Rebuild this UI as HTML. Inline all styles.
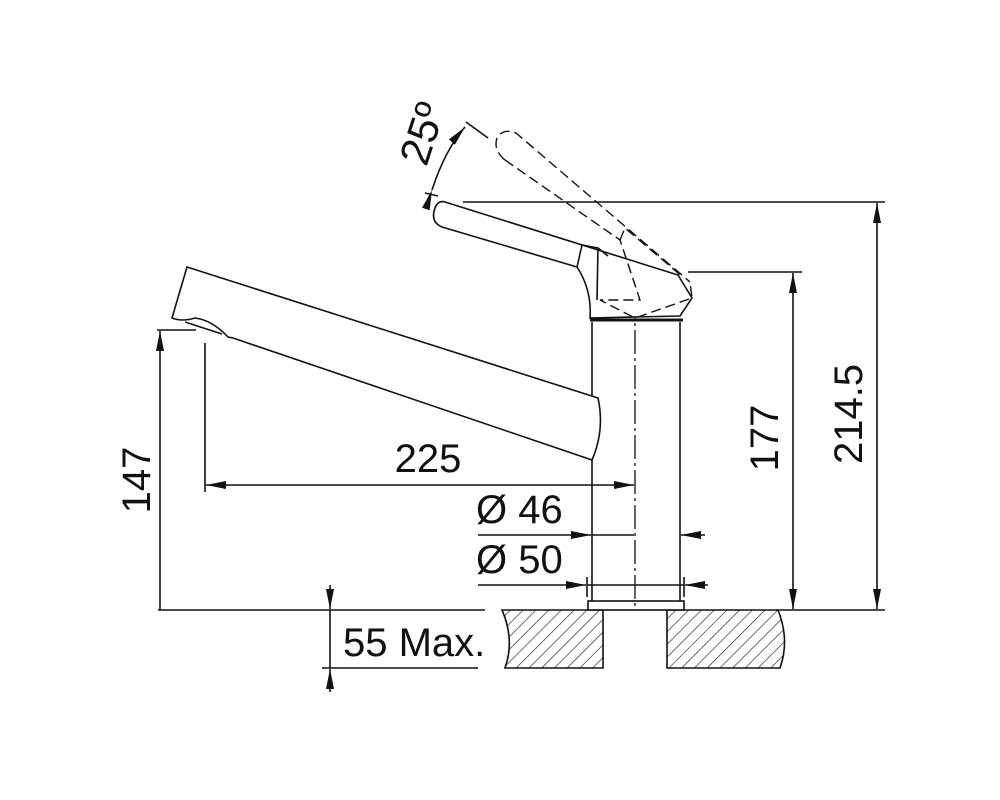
<!DOCTYPE html>
<html><head><style>body{margin:0;background:#fff}svg{display:block}text{font-family:"Liberation Sans",sans-serif;fill:#111}</style></head>
<body>
<svg width="1000" height="800" viewBox="0 0 1000 800" xmlns="http://www.w3.org/2000/svg">
<defs>
<marker id="a" viewBox="0 0 20 8" refX="20" refY="4" markerWidth="20" markerHeight="8" orient="auto" markerUnits="userSpaceOnUse"><path d="M0,0L20,4L0,8z" fill="#111"/></marker>
<pattern id="h" width="9" height="9" patternUnits="userSpaceOnUse" patternTransform="rotate(45)"><line x1="0" y1="0" x2="0" y2="9" stroke="#222" stroke-width="1.3"/></pattern>
</defs>
<g stroke="#111" stroke-width="1.6" fill="none">
<path d="M502,610 L603,610 L603,668 L505,668 Q515,640 502,610z" fill="url(#h)"/>
<path d="M667,610 L778,610 Q790,640 780,668 L667,668z" fill="url(#h)"/>
<rect x="588" y="601" width="96" height="9" fill="#fff"/>
<line x1="592" y1="322" x2="592" y2="601"/>
<line x1="680" y1="322" x2="680" y2="601"/>
<line x1="590" y1="320" x2="683" y2="320" stroke-width="3"/>
<line x1="635" y1="295" x2="635" y2="606" stroke-dasharray="24,4,3,4" stroke-width="1.3"/>
<path d="M187,267 L598,398 Q605,430 592,460 L233,338 L228,337 Q212,320 195,318 Q182,322 172,318 L187,267z" fill="#fff"/>
<path d="M185,322 L222,334"/>
<path d="M445,202 L678,275 L692,298 L680,316 L590,318 Q592,290 577,267 L442,227 Q430,222 435,208 Q438,200 445,202z" fill="#fff"/>
<path d="M577,267 L582,245 L598,248 L597,300 M598,248 L608,256"/>
<g stroke-dasharray="10,5" stroke-width="1.4">
<path d="M505,160 Q493,150 497,138 Q503,128 516,133 L690,282"/>
<path d="M505,160 L620,240 L640,300 L600,300 L635,318 L692,298 L690,282"/>
<path d="M620,240 L625,228 L684,278"/>
</g>
<path d="M432,190 Q445,150 465,127" marker-start="url(#a)" marker-end="url(#a)"/>
<line x1="425" y1="193" x2="438" y2="196"/>
<line x1="466" y1="122" x2="488" y2="138"/>
<line x1="463" y1="202" x2="885" y2="202"/>
<line x1="688" y1="272" x2="802" y2="272"/>
<line x1="157" y1="330" x2="196" y2="330"/>
<line x1="205" y1="343" x2="205" y2="492"/>
<line x1="158" y1="610" x2="485" y2="610"/>
<line x1="776" y1="610" x2="885" y2="610"/>
<line x1="322" y1="668" x2="478" y2="668"/>
<line x1="587" y1="577" x2="587" y2="597"/>
<line x1="684" y1="577" x2="684" y2="597"/>
<line x1="160" y1="610" x2="160" y2="331" marker-end="url(#a)"/>
<line x1="793" y1="440" x2="793" y2="273" marker-end="url(#a)"/>
<line x1="793" y1="440" x2="793" y2="609" marker-end="url(#a)"/>
<line x1="877" y1="400" x2="877" y2="203" marker-end="url(#a)"/>
<line x1="877" y1="400" x2="877" y2="609" marker-end="url(#a)"/>
<line x1="420" y1="485" x2="206" y2="485" marker-end="url(#a)"/>
<line x1="420" y1="485" x2="634" y2="485" marker-end="url(#a)"/>
<line x1="478" y1="535" x2="591" y2="535" marker-end="url(#a)"/>
<line x1="705" y1="535" x2="681" y2="535" marker-end="url(#a)"/>
<line x1="634" y1="535" x2="592" y2="535"/>
<line x1="478" y1="585" x2="586" y2="585" marker-end="url(#a)"/>
<line x1="708" y1="585" x2="685" y2="585" marker-end="url(#a)"/>
<line x1="587" y1="585" x2="684" y2="585"/>
<line x1="330" y1="585" x2="330" y2="609" marker-end="url(#a)"/>
<line x1="330" y1="692" x2="330" y2="669" marker-end="url(#a)"/>
<line x1="330" y1="610" x2="330" y2="668"/>
</g>
<g font-size="40">
<text x="428" y="472" text-anchor="middle">225</text>
<text x="476" y="523">Ø 46</text>
<text x="476" y="573">Ø 50</text>
<text x="343" y="656">55 Max.</text>
<text transform="translate(150,480) rotate(-90)" text-anchor="middle">147</text>
<text transform="translate(778,438) rotate(-90)" text-anchor="middle">177</text>
<text transform="translate(862,414) rotate(-90)" text-anchor="middle">214.5</text>
<text transform="translate(436,138) rotate(-72)" text-anchor="middle" font-size="42">25º</text>
</g>
</svg>
</body></html>
